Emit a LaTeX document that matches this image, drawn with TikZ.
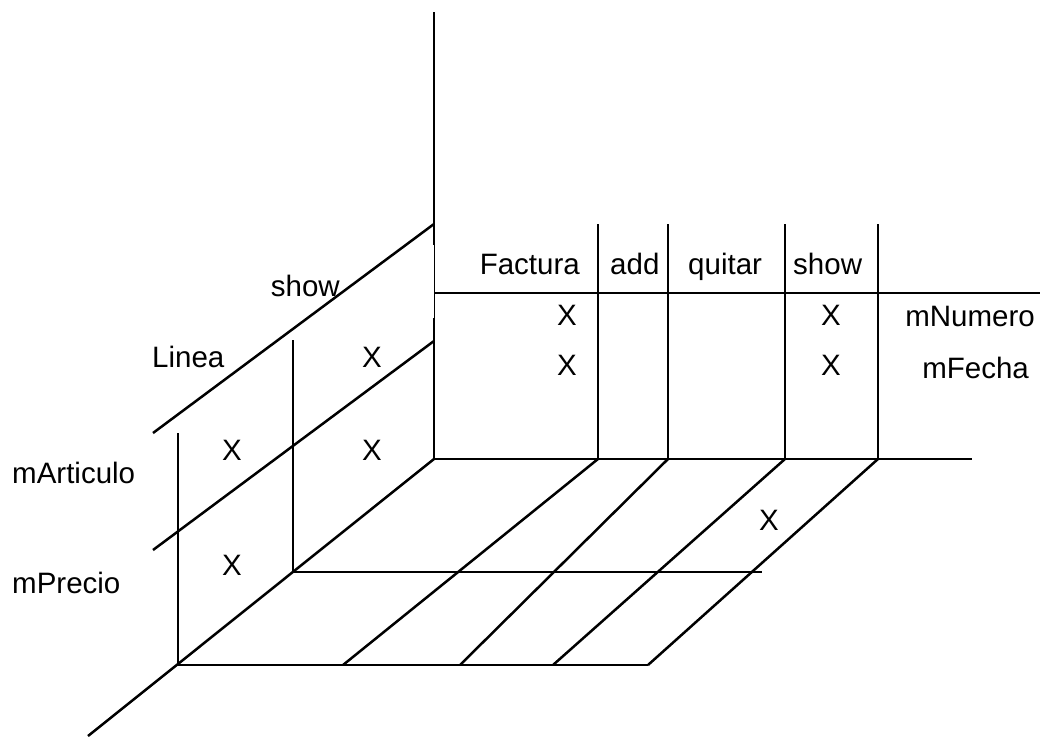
\documentclass[tikz,border=0pt]{standalone}
\usepackage{fontspec}
\setmainfont{Liberation Sans}
\begin{document}
\begin{tikzpicture}[x=1pt,y=-1pt,
  ln/.style={line width=2.5pt,line cap=butt},
  thinln/.style={line width=1pt},
  lbl/.style={inner sep=0pt,anchor=base west,font=\fontsize{29.5}{32}\selectfont},
  lble/.style={inner sep=0pt,anchor=base east,font=\fontsize{29.5}{32}\selectfont},
  mk/.style={inner sep=0pt,anchor=base,font=\fontsize{29.5}{32}\selectfont}]
\useasboundingbox (0,0) rectangle (1040,736);
% key points
\coordinate (vtop) at (434,12);
\coordinate (vgapA) at (434,245);
\coordinate (vgapB) at (434,318);
\coordinate (O) at (434,459);
\coordinate (d1a) at (153,433);
\coordinate (d1b) at (434,224);
\coordinate (d2a) at (153,550);
\coordinate (d2b) at (434,341);
\coordinate (hL) at (434,293);
\coordinate (hR) at (1040,293);
\coordinate (c1t) at (598,224); \coordinate (c1b) at (598,459); \coordinate (f1) at (343,665);
\coordinate (c2t) at (668,224); \coordinate (c2b) at (668,459); \coordinate (f2) at (460,665);
\coordinate (c3t) at (785,224); \coordinate (c3b) at (785,459); \coordinate (f3) at (553,665);
\coordinate (c4t) at (878,224); \coordinate (c4b) at (878,459); \coordinate (f4) at (648,665);
\coordinate (bR) at (972,459);
\coordinate (lvt) at (178,433); \coordinate (lvb) at (178,665);
\coordinate (ivt) at (293,340); \coordinate (ivb) at (293,572);
\coordinate (ihR) at (762,572);
\coordinate (diagEnd) at (88,736);
% back wall
\draw[ln] (vtop) -- (vgapA);
\draw[thinln] (vgapA) -- (vgapB);
\draw[ln] (vgapB) -- (O);
\draw[ln] (hL) -- (hR);
\draw[ln] (O) -- (bR);
\draw[ln] (c1t) -- (c1b);
\draw[ln] (c2t) -- (c2b);
\draw[ln] (c3t) -- (c3b);
\draw[ln] (c4t) -- (c4b);
% side wall
\draw[ln] (d1a) -- (d1b);
\draw[ln] (d2a) -- (d2b);
\draw[ln] (lvt) -- (lvb);
\draw[ln] (ivt) -- (ivb);
\draw[ln] (ivb) -- (ihR);
% floor
\draw[ln] (diagEnd) -- (O);
\draw[ln] (lvb) -- (f4);
\draw[ln] (c1b) -- (f1);
\draw[ln] (c2b) -- (f2);
\draw[ln] (c3b) -- (f3);
\draw[ln] (c4b) -- (f4);
% texts back wall
\node[lble] (factura) at (580,274) {Factura};
\node[lbl] (add) at (610,274) {add};
\node[lbl] (quitar) at (688,274) {quitar};
\node[lbl] (showF) at (793,274) {show};
\node[mk] (x1) at (567,325) {X};
\node[mk] (x2) at (567,375) {X};
\node[mk] (x3) at (831,325) {X};
\node[mk] (x4) at (831,375) {X};
\node[lble] (mnum) at (1035,326) {mNumero};
\node[lble] (mfec) at (1029,378) {mFecha};
% texts side wall
\node[lble] (showL) at (340,296) {show};
\node[lbl] (linea) at (152,367) {Linea};
\node[mk] (x5) at (372,367) {X};
\node[mk] (x6) at (232,460) {X};
\node[mk] (x7) at (372,460) {X};
\node[mk] (x8) at (232,575) {X};
\node[lbl] (mart) at (12,483) {mArticulo};
\node[lbl] (mpre) at (12,593) {mPrecio};
% floor
\node[mk] (x9) at (769,530) {X};
\end{tikzpicture}
\end{document}
